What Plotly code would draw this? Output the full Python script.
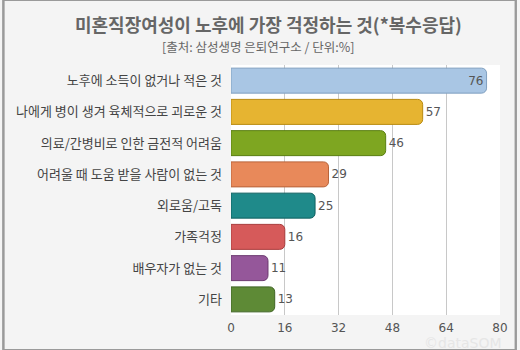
import plotly.graph_objects as go

categories = ["노후에 소득이 없거나 적은 것", "나에게 병이 생겨 육체적으로 괴로운 것",
              "의료/간병비로 인한 금전적 어려움", "어려울 때 도움 받을 사람이 없는 것",
              "외로움/고독", "가족걱정", "배우자가 없는 것", "기타"]
values = [76, 57, 46, 29, 25, 16, 11, 13]
colors = ["#a9c6e4", "#e6b431", "#7ea621", "#e8895a", "#1f8a8a", "#d65a5a", "#95579a", "#5e8a36"]
edge = ["#7f9fbf", "#b88a10", "#5a7e12", "#b8643a", "#0f6060", "#a83c3c", "#6c3a70", "#3f6424"]
tick_vals = [0, 16, 32, 48, 64, 80]

positions = ["inside"] + ["outside"] * (len(values) - 1)

fig = go.Figure()
fig.add_trace(go.Bar(
    y=categories, x=values, orientation="h",
    marker=dict(color=colors, line=dict(color=edge, width=1), cornerradius=5),
    text=[str(v) for v in values], textposition=positions,
    insidetextanchor="end",
    textfont=dict(family="DejaVu Sans", size=12, color="#555555"),
    cliponaxis=False, width=0.8,
))

# alternating column bands
for i in range(1, len(tick_vals) - 1, 2):
    fig.add_shape(type="rect", xref="x", yref="paper", x0=tick_vals[i], x1=tick_vals[i + 1],
                  y0=0, y1=1, fillcolor="#f6f6f2", line_width=0, layer="below")

fig.update_layout(
    width=520, height=350,
    margin=dict(l=231, r=16, t=65, b=35),
    paper_bgcolor="#f4f4f4", plot_bgcolor="#ffffff",
    showlegend=False,
    font=dict(family="Noto Sans CJK KR", color="#444444"),
    annotations=[
        dict(text="<b>미혼직장여성이 노후에 가장 걱정하는 것(*복수응답)</b>", xref="paper", yref="paper",
             x=0.5, y=1, xanchor="center", yanchor="middle", showarrow=False,
             font=dict(size=18, color="#666666", family="Noto Sans CJK KR"),
             xshift=-97, yshift=65 - 24),
        dict(text="[출처: 삼성생명 은퇴연구소 / 단위:%]", xref="paper", yref="paper",
             x=0.5, y=1, xanchor="center", yanchor="middle", showarrow=False,
             font=dict(size=12.5, color="#666666", family="Noto Sans CJK KR"),
             xshift=-107, yshift=65 - 46),
        dict(text="©dataSOM", xref="paper", yref="paper", x=1, y=0, xanchor="right", yanchor="top",
             showarrow=False, font=dict(size=14, color="#e6e6e6", family="DejaVu Sans"),
             xshift=4, yshift=-18),
    ],
    shapes=[dict(type="rect", xref="paper", yref="paper", x0=-231/273, x1=1 + 16/273,
                 y0=-35/250, y1=1 + 65/250, line=dict(color="#9a9a9a", width=2),
                 fillcolor="rgba(0,0,0,0)")],
)
fig.update_xaxes(range=[0, 80], tickvals=tick_vals, showgrid=True, gridcolor="#c8c8c8",
                 gridwidth=1, zeroline=False, showline=False,
                 tickfont=dict(size=12, color="#555555", family="DejaVu Sans"),
                 ticklabelstandoff=4)
fig.update_yaxes(autorange="reversed", showgrid=False, showline=False, ticks="",
                 tickfont=dict(size=13, color="#444444", family="Noto Sans CJK KR"),
                 ticklabelstandoff=8)

fig.write_html("out.html")
